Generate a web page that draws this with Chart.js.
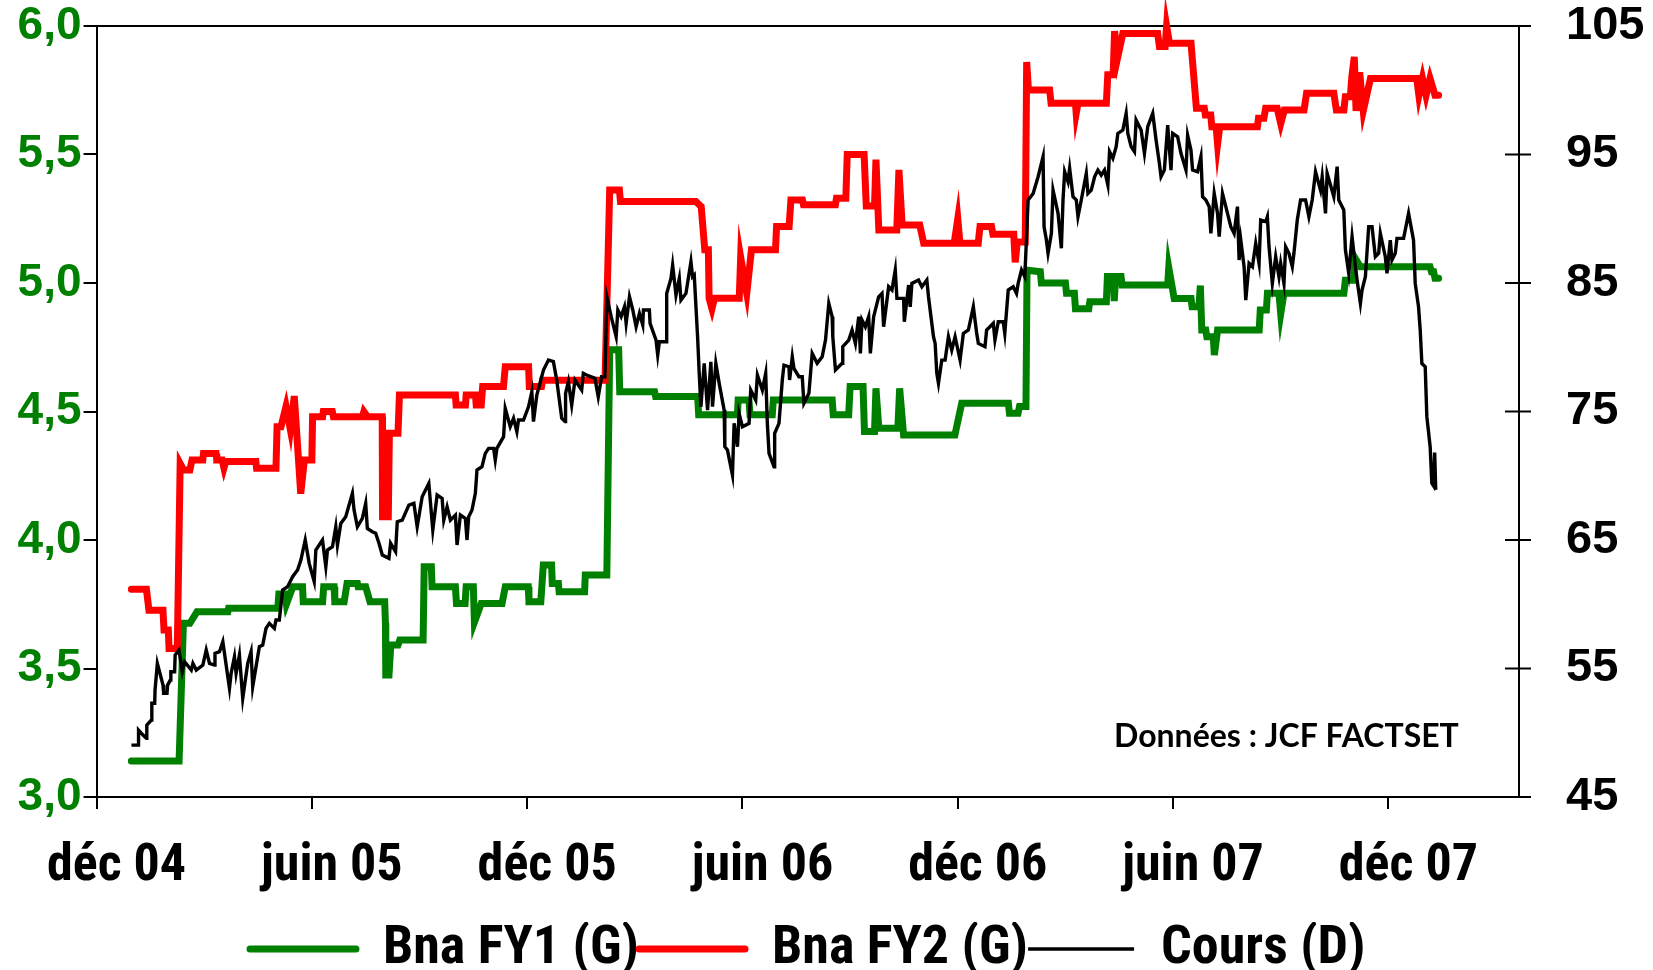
<!DOCTYPE html>
<html>
<head>
<meta charset="utf-8">
<script src="https://cdn.jsdelivr.net/npm/chart.js@4.4.1/dist/chart.umd.min.js"></script>
<style>
html,body{margin:0;padding:0;background:#fff;}
#wrap{position:relative;width:1653px;height:970px;}
</style>
</head>
<body>
<div id="wrap"><canvas id="c" width="1653" height="970"></canvas></div>
<script>
// x values are months counted from the "déc 04" tick
const tickMonths = [0, 6, 12, 18, 24, 30, 36];
const tickLabels = ['déc 04', 'juin 05', 'déc 05', 'juin 06', 'déc 06', 'juin 07', 'déc 07'];
const leftTicks = [3.0, 3.5, 4.0, 4.5, 5.0, 5.5, 6.0];
const rightTicks = [45, 55, 65, 75, 85, 95, 105];
const seriesLabels = ['Bna FY1 (G)', 'Bna FY2 (G)', 'Cours (D)'];
const sourceNote = 'Données : JCF FACTSET';

const fy1Months = [0.97,2.30,2.42,2.60,2.80,3.66,3.68,5.05,5.08,5.25,5.29,5.47,5.74,5.76,6.30,6.33,6.62,6.64,6.90,6.98,7.27,7.29,7.50,7.62,8.03,8.05,8.06,8.15,8.20,8.40,8.45,9.10,9.13,9.33,9.35,10.00,10.03,10.27,10.30,10.50,10.53,10.72,11.30,11.39,12.03,12.05,12.38,12.45,12.68,12.70,12.87,12.89,13.60,13.62,14.22,14.30,14.55,14.58,15.55,15.58,16.75,16.78,17.86,17.88,18.18,18.21,18.83,18.86,20.50,20.53,20.96,21.00,21.36,21.40,21.68,21.72,21.80,22.33,22.38,22.49,23.92,24.11,25.41,25.44,25.68,25.72,25.90,25.93,26.30,26.33,27.00,27.03,27.25,27.28,27.65,27.68,28.14,28.17,28.33,28.36,28.40,28.55,28.58,29.85,29.88,30.03,30.50,30.53,30.72,30.76,30.80,30.91,30.94,31.12,31.15,31.24,32.40,32.43,32.60,32.63,32.95,33.00,33.09,34.76,34.80,35.03,35.06,35.22,37.16,37.20,37.26,37.30,37.40];
const fy1Values = [3.14,3.14,3.676,3.676,3.721,3.721,3.734,3.734,3.79,3.79,3.75,3.818,3.818,3.76,3.76,3.818,3.818,3.76,3.76,3.831,3.831,3.818,3.818,3.76,3.76,3.676,3.475,3.475,3.591,3.591,3.611,3.611,3.896,3.896,3.818,3.818,3.753,3.753,3.818,3.818,3.68,3.753,3.753,3.818,3.818,3.76,3.76,3.903,3.903,3.831,3.831,3.799,3.799,3.864,3.864,4.74,4.74,4.577,4.577,4.558,4.558,4.487,4.487,4.545,4.545,4.487,4.487,4.545,4.545,4.487,4.487,4.597,4.597,4.422,4.422,4.59,4.435,4.435,4.59,4.409,4.409,4.532,4.532,4.493,4.493,4.519,4.519,5.05,5.044,5.0,5.0,4.96,4.96,4.90,4.90,4.927,4.927,5.025,5.025,4.93,5.025,5.025,4.992,4.992,5.06,4.94,4.94,4.908,4.908,4.99,4.817,4.817,4.791,4.791,4.72,4.817,4.817,4.895,4.895,4.96,4.96,4.88,4.96,4.96,5.011,5.011,5.10,5.063,5.063,5.044,5.044,5.018,5.018];

const fy2Months = [0.97,1.39,1.46,1.85,1.88,2.00,2.02,2.25,2.33,2.43,2.60,2.66,2.96,2.98,3.33,3.35,3.50,3.55,3.60,4.44,4.46,5.00,5.03,5.14,5.28,5.40,5.51,5.69,5.79,6.00,6.02,6.30,6.32,6.57,6.60,7.41,7.45,7.55,7.96,7.97,8.13,8.16,8.40,8.44,10.00,10.02,10.28,10.30,10.56,10.58,10.72,10.76,11.34,11.39,12.04,12.06,12.40,12.43,14.17,14.30,14.57,14.60,16.70,16.85,16.95,17.05,17.07,17.15,17.22,17.91,17.95,18.12,18.25,18.92,18.95,19.30,19.35,19.67,19.70,20.59,20.62,20.88,20.92,21.39,21.45,21.68,21.72,21.80,22.30,22.36,22.45,22.94,23.05,23.90,24.00,24.06,24.57,24.62,24.94,24.98,25.56,25.60,25.66,25.88,25.92,25.97,26.56,26.60,27.28,27.30,27.35,28.14,28.18,28.33,28.37,28.45,28.60,29.57,29.62,29.78,29.82,29.90,30.50,30.65,30.87,30.90,31.05,31.08,31.20,31.24,31.30,32.35,32.38,32.53,32.58,32.90,33.00,33.10,33.65,33.72,34.48,34.55,34.76,34.80,34.94,34.98,35.05,35.10,35.20,35.30,35.50,36.79,36.85,36.95,37.05,37.16,37.30,37.40];
const fy2Values = [3.808,3.808,3.727,3.727,3.65,3.65,3.578,3.578,4.298,4.272,4.272,4.311,4.311,4.337,4.337,4.311,4.311,4.28,4.305,4.305,4.279,4.279,4.441,4.441,4.52,4.43,4.56,4.18,4.311,4.311,4.48,4.48,4.50,4.50,4.48,4.48,4.50,4.48,4.48,4.09,4.09,4.415,4.415,4.564,4.564,4.525,4.525,4.564,4.564,4.525,4.525,4.597,4.597,4.674,4.674,4.597,4.597,4.622,4.622,5.362,5.362,5.317,5.317,5.297,5.129,5.129,4.941,4.90,4.941,4.941,5.10,4.96,5.129,5.129,5.22,5.22,5.323,5.323,5.304,5.304,5.33,5.33,5.50,5.50,5.30,5.30,5.48,5.206,5.206,5.44,5.226,5.226,5.155,5.155,5.25,5.155,5.155,5.22,5.22,5.19,5.19,5.08,5.16,5.16,5.86,5.751,5.751,5.699,5.699,5.66,5.699,5.699,5.81,5.81,5.98,5.874,5.971,5.971,5.92,5.92,6.0,5.933,5.933,5.68,5.68,5.654,5.654,5.608,5.608,5.54,5.608,5.608,5.641,5.641,5.68,5.68,5.62,5.673,5.673,5.738,5.738,5.673,5.673,5.725,5.725,5.80,5.88,5.67,5.82,5.67,5.796,5.796,5.73,5.796,5.73,5.796,5.731,5.731];

const coursMonths = [0.972,1.157,1.17,1.296,1.389,1.40,1.528,1.54,1.62,1.63,1.694,1.852,1.87,1.963,1.98,2.056,2.07,2.176,2.19,2.296,2.389,2.454,2.639,2.685,2.778,2.963,3.056,3.148,3.287,3.30,3.426,3.519,3.704,3.75,3.843,3.889,3.981,4.074,4.213,4.306,4.352,4.537,4.63,4.722,4.815,4.954,5.0,5.093,5.185,5.324,5.463,5.602,5.694,5.815,5.926,6.065,6.111,6.296,6.389,6.435,6.574,6.667,6.713,6.806,6.944,7.13,7.176,7.269,7.407,7.5,7.546,7.685,7.778,7.87,7.963,8.148,8.194,8.333,8.38,8.519,8.704,8.843,8.935,9.074,9.259,9.37,9.491,9.63,9.676,9.769,9.861,10.0,10.046,10.139,10.278,10.324,10.37,10.463,10.556,10.602,10.741,10.833,10.926,11.065,11.111,11.157,11.343,11.389,11.528,11.62,11.713,11.759,11.898,12.037,12.13,12.176,12.269,12.454,12.593,12.731,12.824,12.963,13.056,13.07,13.148,13.241,13.333,13.519,13.565,13.657,13.889,13.981,14.074,14.167,14.221,14.341,14.48,14.527,14.619,14.712,14.758,14.851,14.943,15.036,15.129,15.221,15.24,15.406,15.425,15.591,15.638,15.684,15.869,15.888,16.008,16.054,16.147,16.24,16.286,16.425,16.564,16.61,16.656,16.749,16.795,16.841,16.934,17.027,17.119,17.166,17.258,17.351,17.49,17.508,17.582,17.721,17.767,17.86,17.906,17.999,18.184,18.23,18.369,18.416,18.554,18.647,18.693,18.74,18.879,18.897,19.017,19.11,19.156,19.295,19.313,19.388,19.434,19.573,19.666,19.712,19.851,19.943,20.082,20.221,20.314,20.406,20.499,20.517,20.591,20.777,20.795,20.962,21.054,21.147,21.24,21.286,21.332,21.425,21.517,21.564,21.656,21.795,21.888,21.934,22.073,22.166,22.258,22.304,22.49,22.51,22.582,22.629,22.675,22.721,22.906,22.999,23.138,23.184,23.323,23.369,23.416,23.462,23.554,23.647,23.74,23.832,23.925,24.064,24.156,24.295,24.434,24.527,24.573,24.758,24.804,24.897,24.99,25.036,25.129,25.267,25.31,25.406,25.545,25.637,25.683,25.776,25.868,25.961,26.1,26.239,26.377,26.405,26.47,26.516,26.609,26.655,26.794,26.887,26.933,26.979,27.072,27.118,27.211,27.303,27.35,27.442,27.581,27.627,27.72,27.813,27.905,27.998,28.09,28.183,28.229,28.322,28.414,28.461,28.6,28.692,28.739,28.831,28.924,28.97,29.109,29.202,29.294,29.433,29.526,29.618,29.664,29.757,29.85,29.942,29.989,30.127,30.22,30.359,30.405,30.498,30.544,30.683,30.776,30.822,30.914,31.007,31.053,31.146,31.239,31.285,31.377,31.47,31.609,31.701,31.794,31.84,31.887,31.979,32.026,32.118,32.211,32.303,32.396,32.442,32.581,32.627,32.674,32.766,32.859,32.951,32.998,33.09,33.137,33.229,33.322,33.368,33.461,33.553,33.692,33.785,33.877,33.97,34.109,34.155,34.248,34.294,34.479,34.572,34.618,34.757,34.803,34.896,34.988,35.081,35.127,35.22,35.266,35.359,35.451,35.544,35.637,35.729,35.776,35.914,35.961,36.053,36.1,36.192,36.239,36.424,36.563,36.701,36.748,36.84,36.887,36.933,37.026,37.072,37.164,37.211,37.26,37.29,37.32];
const coursValues = [49.04,49.04,50.21,49.82,49.56,50.60,50.99,52.29,52.29,53.32,55.40,53.71,53.07,53.07,53.71,54.10,54.75,54.75,56.05,56.44,54.75,55.53,54.88,55.40,54.88,55.27,56.44,55.40,55.27,56.18,56.31,57.09,53.45,54.62,55.92,54.62,56.05,52.68,55.40,56.31,53.58,56.70,56.83,58.12,58.51,58.12,58.77,58.77,61.11,61.37,62.14,62.66,63.44,65.0,63.18,61.76,64.22,65.0,62.92,64.22,64.48,66.03,64.61,66.29,66.81,68.63,67.33,66.03,66.68,67.85,65.9,65.65,65.52,64.74,63.83,63.57,64.74,64.09,66.42,66.55,67.72,67.85,66.03,68.37,69.41,65.78,68.5,68.24,66.55,67.59,66.55,66.94,64.61,66.94,66.68,65.0,66.81,67.33,68.63,70.45,70.70,71.74,72.13,72.13,71.22,72.13,73.04,75.24,73.82,74.47,73.43,74.34,74.34,75.37,76.54,74.21,76.28,78.23,79.01,78.88,77.45,74.47,74.21,76.41,77.32,75.5,77.45,76.67,77.97,77.84,77.58,76.15,77.71,77.71,83.93,82.38,80.82,82.9,82.38,83.15,81.86,83.93,82.9,81.6,82.64,81.73,82.9,82.9,81.86,80.56,79.39,80.43,80.43,84.19,85.36,86.4,84.06,85.36,83.67,84.19,86.66,85.49,85.62,80.82,77.97,75.37,78.75,75.11,78.87,75.37,78.75,77.19,75.11,72.26,72.0,70.06,74.08,72.26,74.85,73.82,74.08,76.67,75.89,77.84,76.67,77.97,74.08,71.74,70.7,73.3,74.08,77.45,78.61,78.49,77.45,79.26,78.36,77.71,77.71,75.63,76.41,79.52,78.75,79.26,80.56,83.41,82.38,80.82,78.23,78.75,80.04,80.56,81.34,80.3,82.38,79.52,82.12,81.6,82.38,79.52,82.38,83.93,84.19,81.6,84.71,84.45,86.01,83.8,83.8,81.99,83.67,84.84,83.15,84.97,85.23,84.71,85.23,83.93,80.82,80.3,77.97,77.19,79.0,79.0,80.82,79.78,80.82,79.0,81.08,81.34,83.15,81.08,80.3,80.04,81.34,81.6,81.86,80.56,81.99,81.99,81.08,84.45,84.71,84.19,84.97,86.01,85.49,91.46,91.97,93.27,94.83,89.38,88.34,87.31,88.86,92.23,90.42,87.7,91.46,93.66,92.88,93.92,91.71,91.46,90.16,91.46,93.53,91.97,92.23,93.27,93.79,93.4,93.79,92.62,95.22,94.7,95.61,96.64,96.9,98.2,96.64,95.61,95.22,97.68,96.9,95.09,97.16,98.2,96.13,94.31,93.27,93.79,97.29,93.79,96.64,96.38,95.09,93.79,96.51,95.35,93.79,93.66,94.83,91.71,91.46,90.94,88.86,91.97,90.42,88.6,91.97,90.94,89.38,88.86,90.94,86.79,88.34,86.27,83.67,86.53,86.27,88.08,86.53,89.9,89.77,90.16,87.82,84.97,87.05,85.49,86.53,84.97,87.82,87.31,86.27,87.31,89.9,91.46,91.46,90.16,91.46,93.66,92.23,93.27,90.42,93.53,91.71,94.05,91.46,90.68,87.57,85.75,88.6,86.27,85.23,83.41,84.45,85.49,89.38,89.38,87.05,87.31,88.86,87.05,85.75,88.34,86.79,87.31,88.47,88.47,90.42,88.34,84.97,83.15,81.34,78.74,78.49,74.6,72.26,69.41,69.2,71.8,68.9];

function toXY(xs, ys) { return xs.map((x, i) => ({ x: x, y: ys[i] })); }

function fontAvailable(name) {
  const ctx = document.createElement('canvas').getContext('2d');
  const s = 'juin 05 Bna FY1 (G) WMwm';
  ctx.font = 'bold 50px monospace';
  const a = ctx.measureText(s).width;
  ctx.font = 'bold 50px "' + name + '", monospace';
  const b = ctx.measureText(s).width;
  return Math.abs(a - b) > 0.5;
}
let bigFamily = "'Liberation Sans', Arial, sans-serif", bigSize = 47, legendSize = 47;
if (fontAvailable('Liberation Sans Narrow')) { bigFamily = "'Liberation Sans Narrow', 'Liberation Sans', sans-serif"; bigSize = 53; legendSize = 54; }
else if (fontAvailable('Roboto Condensed')) { bigFamily = "'Roboto Condensed', 'Liberation Sans', sans-serif"; bigSize = 52; legendSize = 54; }

Chart.defaults.font.family = "'Liberation Sans', Arial, sans-serif";

const framePlugin = {
  id: 'frame',
  beforeDatasetsDraw(chart) {
    const ctx = chart.ctx, a = chart.chartArea, yR = chart.scales.yR;
    ctx.save();
    ctx.strokeStyle = '#000';
    ctx.lineWidth = 2;
    ctx.beginPath(); ctx.moveTo(a.left, a.top); ctx.lineTo(a.right + 12, a.top); ctx.stroke();
    ctx.beginPath(); ctx.moveTo(a.right, a.bottom); ctx.lineTo(a.right + 12, a.bottom); ctx.stroke();
    yR.ticks.forEach(t => {
      const y = yR.getPixelForValue(t.value);
      ctx.beginPath(); ctx.moveTo(a.right - 14, y); ctx.lineTo(a.right + 12, y); ctx.stroke();
    });
    ctx.restore();
  },
  afterDraw(chart) {
    const ctx = chart.ctx;
    ctx.save();
    const fam = "Lato, 'Open Sans', sans-serif";
    ctx.font = 'bold 30px ' + fam;
    const w = ctx.measureText(sourceNote).width;
    const size = 30 * 345 / w;
    ctx.font = 'bold ' + size.toFixed(2) + 'px ' + fam;
    ctx.fillStyle = '#000';
    ctx.textAlign = 'left';
    ctx.textBaseline = 'middle';
    ctx.fillText(sourceNote, 1114, 737);
    ctx.restore();
  }
};

const lineCommon = { pointRadius: 0, pointHoverRadius: 0, tension: 0, fill: false, clip: false, borderJoinStyle: 'miter' };

new Chart(document.getElementById('c'), {
  type: 'line',
  data: {
    datasets: [
      Object.assign({ label: seriesLabels[0], data: toXY(fy1Months, fy1Values), yAxisID: 'yL', borderColor: '#008000', backgroundColor: '#008000', borderWidth: 7, borderCapStyle: 'round', order: 2 }, lineCommon),
      Object.assign({ label: seriesLabels[1], data: toXY(fy2Months, fy2Values), yAxisID: 'yL', borderColor: '#ff0000', backgroundColor: '#ff0000', borderWidth: 7, borderCapStyle: 'round', order: 1 }, lineCommon),
      Object.assign({ label: seriesLabels[2], data: toXY(coursMonths, coursValues), yAxisID: 'yR', borderColor: '#000000', backgroundColor: '#000000', borderWidth: 3.4, borderCapStyle: 'butt', order: 0 }, lineCommon)
    ]
  },
  options: {
    responsive: false,
    animation: false,
    devicePixelRatio: 1,
    events: [],
    layout: { padding: { top: 26, left: 0, right: 0, bottom: 0 } },
    plugins: {
      tooltip: { enabled: false },
      legend: {
        position: 'bottom',
        fullSize: false,
        maxHeight: 48,
        labels: {
          usePointStyle: true,
          pointStyleWidth: 106,
          padding: 0,
          color: '#000',
          font: { family: bigFamily, size: legendSize, weight: 'bold' },
          generateLabels: (chart) => chart.data.datasets.map((ds, i) => ({
            text: ds.label, fillStyle: ds.borderColor, strokeStyle: ds.borderColor,
            lineWidth: ds.borderWidth, lineCap: ds.borderCapStyle, pointStyle: 'line',
            hidden: false, datasetIndex: i, fontColor: '#000'
          }))
        }
      }
    },
    scales: {
      x: {
        type: 'linear',
        min: 0,
        max: 39.64,
        afterFit: (s) => { s.height = 125; },
        afterBuildTicks: (s) => { s.ticks = tickMonths.map(v => ({ value: v })); },
        grid: { drawOnChartArea: false, drawTicks: true, tickLength: 12, color: '#000', lineWidth: 2 },
        border: { display: true, color: '#000', width: 2 },
        ticks: {
          autoSkip: false, maxRotation: 0, minRotation: 0, labelOffset: 20, padding: 27, color: '#000',
          font: { family: bigFamily, size: bigSize, weight: 'bold', lineHeight: 1.2 },
          callback: (v) => { const i = tickMonths.indexOf(v); return i >= 0 ? tickLabels[i] : ''; }
        }
      },
      yL: {
        position: 'left',
        min: 3, max: 6,
        afterFit: (s) => { s.width = 92; },
        afterBuildTicks: (s) => { s.ticks = leftTicks.map(v => ({ value: v })); },
        grid: { drawOnChartArea: false, drawTicks: true, tickLength: 13, color: '#000', lineWidth: 2 },
        border: { display: true, color: '#000', width: 2 },
        ticks: {
          padding: 2, color: '#008000',
          font: { size: 46, weight: 'bold', lineHeight: 1 },
          callback: (v) => Number(v).toFixed(1).replace('.', ',')
        }
      },
      yR: {
        position: 'right',
        min: 45, max: 105,
        afterFit: (s) => { s.width = 134; },
        afterBuildTicks: (s) => { s.ticks = rightTicks.map(v => ({ value: v })); },
        grid: { drawOnChartArea: false, drawTicks: true, tickLength: 47, tickColor: 'rgba(0,0,0,0)', color: 'rgba(0,0,0,0)', lineWidth: 2 },
        border: { display: true, color: '#000', width: 2 },
        ticks: {
          padding: 0, color: '#000',
          font: { size: 47, weight: 'bold', lineHeight: 1 },
          callback: (v) => String(v)
        }
      }
    }
  },
  plugins: [framePlugin]
});
</script>
</body>
</html>
